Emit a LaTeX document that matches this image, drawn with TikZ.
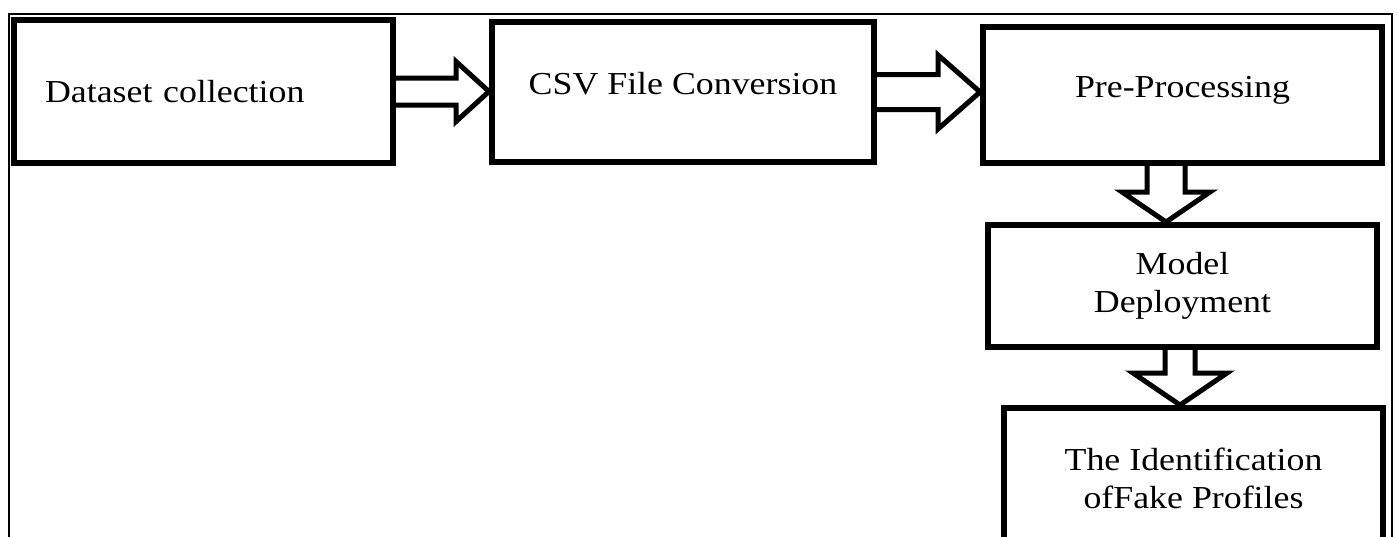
\documentclass[tikz,border=0pt]{standalone}
\usepackage{fontspec}
\setmainfont{Liberation Serif}[FakeStretch=1.12]
\usetikzlibrary{calc}

% hollow arrow to the right: from, to, shaft, head, head length
\newcommand{\hblock}[5]{%
  \draw[blockline] ($(#1.east)+(0,#3)$) -- ($(#2.west |- #1.east)+(-#5,#3)$)
    -- ($(#2.west |- #1.east)+(-#5,#4)$) -- (#2.west |- #1.east)
    -- ($(#2.west |- #1.east)+(-#5,-#4)$) -- ($(#2.west |- #1.east)+(-#5,-#3)$)
    -- ($(#1.east)+(0,-#3)$);}
% hollow arrow downwards: from, to, x offset, shaft, head, head length
\newcommand{\vblock}[6]{%
  \coordinate (s) at ($(#1.south)+(#3,0)$);
  \coordinate (t) at (#2.north -| s);
  \draw[blockline] ($(s)+(-#4,0)$) -- ($(t)+(-#4,-#6)$) -- ($(t)+(-#5,-#6)$)
    -- (t) -- ($(t)+(#5,-#6)$) -- ($(t)+(#4,-#6)$) -- ($(s)+(#4,0)$);}

\begin{document}
\begin{tikzpicture}[x=0.5pt,y=-0.5pt,
    box/.style={draw,line width=3pt,inner sep=0pt,align=center,
      font=\fontsize{16}{19}\selectfont},
    raised/.style={text height=11pt,text depth=9pt},
    blockline/.style={line width=2.5pt,line join=miter}]
        \useasboundingbox (0,0) rectangle (1397,536);
        % draw outer frame
        \draw[line width=1pt] (9,560) -- (9,14) -- (1392,14) -- (1392,560);
        % draw boxes
        \draw (203.5,91.5) node[box,minimum height=71.5pt,text width=158.5pt,inner xsep=15.5pt,align=left] (data) {Dataset collection};
        \draw (683,92) node[box,raised,minimum width=191pt,minimum height=70pt] (csv) {CSV File Conversion};
        \draw (1182.5,95) node[box,raised,minimum width=199.5pt,minimum height=68pt] (prep) {Pre-Processing};
        \draw (1182.5,286) node[box,minimum width=194.5pt,minimum height=61pt] (model) {Model\\Deployment};
        \draw (1193.5,478) node[box,minimum width=189.5pt,minimum height=70pt] (fake) {The Identification\\ofFake Profiles};
        % draw arrows
        \hblock{data}{csv}{13.5}{30}{33}
        \hblock{csv}{prep}{17.5}{37}{42}
        \vblock{prep}{model}{-16.5}{19}{44}{30}
        \vblock{model}{fake}{-2.5}{15}{47}{32}
\end{tikzpicture}
\end{document}
